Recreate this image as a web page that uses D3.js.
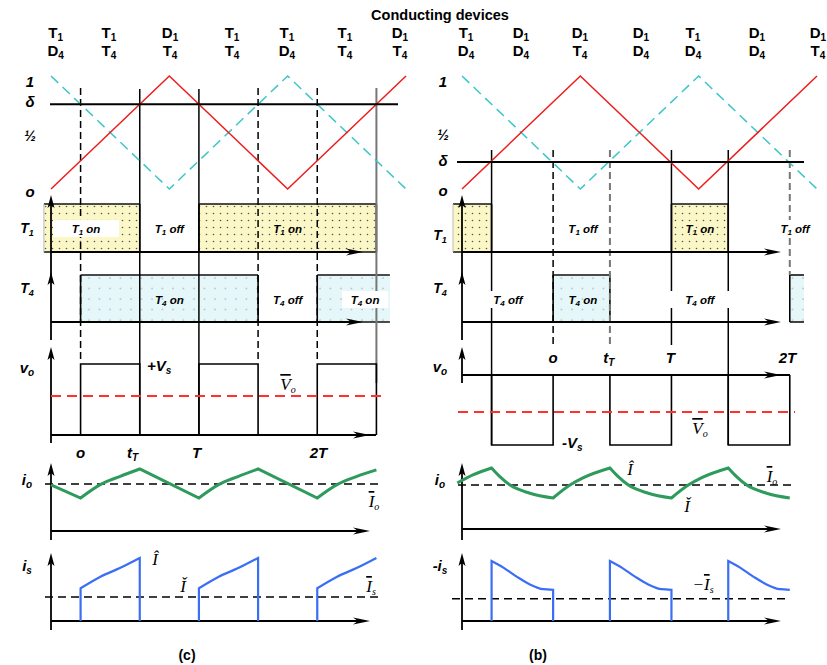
<!DOCTYPE html>
<html><head><meta charset="utf-8">
<script src="https://cdn.jsdelivr.net/npm/d3@7"></script>
<style>body{margin:0;background:#fff}svg{display:block}</style>
</head><body><svg id="c" width="827" height="665"></svg>
<script>
// ================= DATA =================
// time unit u: one carrier period = 1 (x domain 0..1.5 per panel)
const redCarrier  = [[0,0],[0.5,1],[1,0],[1.5,1]];
const cyanCarrier = [[0,1],[0.5,0],[1,1],[1.5,0]];
const deltaC = 0.75, deltaB = 0.24;
const switchC = [0.125,0.375,0.625,0.875,1.125,1.375];
const switchB = [0.125,0.385,0.625,0.885,1.125,1.385];
const devicesC = [["T1","D4"],["T1","T4"],["D1","T4"],["T1","T4"],["T1","D4"],["T1","T4"],["D1","T4"]];
const devicesCPos = [0.02,0.245,0.503,0.765,0.997,1.242,1.474];
const devicesB = [["T1","D4"],["D1","D4"],["D1","T4"],["D1","D4"],["T1","D4"],["D1","D4"],["D1","T4"]];
const devicesBPos = [0.017,0.249,0.498,0.756,0.976,1.246,1.504];
const t1OnC = [[-0.03,0.375],[0.625,1.375]];
const t4OnC = [[0.125,0.875],[1.125,1.432]];
const t1OnB = [[-0.038,0.125],[0.885,1.125]];
const t4OnB = [[0.385,0.625],[1.385,1.445]];
const voPulsesC = [[0.125,0.375],[0.625,0.875],[1.125,1.375]];   // +Vs
const voPulsesB = [[0.125,0.385],[0.625,0.885],[1.125,1.385]];   // -Vs
const voLevelC = 1, voLevelB = -1;
const voMeanC = 0.55, voMeanB = -0.53;
const voTicksC = [["o",null,0.125],["t","T",0.345],["T",null,0.615],["2T",null,1.13]];
const voTicksB = [["o",null,0.385],["t","T",0.62],["T",null,0.88],["2T",null,1.375]];
const ioC = [
  [[0,0.45],[0.125,0]],
  [[0.125,0],[0.21,0.47],[0.29,0.74],[0.375,1]],
  [[0.375,1],[0.625,0]],
  [[0.625,0],[0.71,0.47],[0.79,0.74],[0.875,1]],
  [[0.875,1],[1.125,0]],
  [[1.125,0],[1.21,0.47],[1.29,0.74],[1.375,0.97]]
];
const ioB = [
  [[-0.02,0.5],[0.046,0.77],[0.125,1]],
  [[0.125,1],[0.16,0.71],[0.203,0.43],[0.287,0.16],[0.385,0]],
  [[0.385,0],[0.456,0.43],[0.511,0.67],[0.625,1]],
  [[0.625,1],[0.66,0.71],[0.703,0.43],[0.787,0.16],[0.885,0]],
  [[0.885,0],[0.956,0.43],[1.011,0.67],[1.125,1]],
  [[1.125,1],[1.16,0.71],[1.203,0.43],[1.287,0.16],[1.385,0]]
];
const ioMeanC = 0.48, ioMeanB = 0.43;
const isC = [
  [[0.125,0.52],[0.207,0.70],[0.291,0.84],[0.375,1]],
  [[0.625,0.52],[0.707,0.70],[0.791,0.84],[0.875,1]],
  [[1.125,0.52],[1.207,0.70],[1.291,0.84],[1.375,1]]
];
const isCFall = [true,true,false];
const isB = [
  [[0.125,1],[0.175,0.89],[0.231,0.74],[0.287,0.61],[0.343,0.53],[0.385,0.52]],
  [[0.625,1],[0.675,0.89],[0.731,0.74],[0.787,0.61],[0.843,0.53],[0.885,0.52]],
  [[1.125,1],[1.175,0.89],[1.231,0.74],[1.287,0.61],[1.343,0.53],[1.385,0.52]]
];
const isBFall = [true,true,false];
const isMeanC = 0.38, isMeanB = 0.37;

// ================= DRAW =================
const svg = d3.select("#c");
const SANS = "'Liberation Sans', Arial, Helvetica, sans-serif";
const SERIF = "'Liberation Serif', 'Times New Roman', serif";
const defs = svg.append("defs");
const pY = defs.append("pattern").attr("id","dotY").attr("width",7).attr("height",7).attr("patternUnits","userSpaceOnUse");
pY.append("rect").attr("width",7).attr("height",7).attr("fill","#fbf7c6");
pY.append("circle").attr("cx",3.5).attr("cy",3.5).attr("r",0.8).attr("fill","#555");
const pC = defs.append("pattern").attr("id","dotC").attr("width",10.5).attr("height",10.5).attr("patternUnits","userSpaceOnUse");
pC.append("rect").attr("width",10.5).attr("height",10.5).attr("fill","#e6f7fa");
pC.append("circle").attr("cx",5).attr("cy",5).attr("r",0.8).attr("fill","#aab");

const gBack = svg.append("g"), gLines = svg.append("g"), gFront = svg.append("g");

function line(x1,y1,x2,y2,stroke="#000",w=1.6,dash=null,g=gFront){
  const l = g.append("line").attr("x1",x1).attr("y1",y1).attr("x2",x2).attr("y2",y2)
    .attr("stroke",stroke).attr("stroke-width",w);
  if(dash) l.attr("stroke-dasharray",dash);
  return l;
}
function arrowUp(x,y){
  gFront.append("path").attr("d",`M${x},${y}L${x-3.5},${y+13}L${x},${y+10}L${x+3.5},${y+13}Z`).attr("fill","#000");
}
function arrowRight(x,y){
  gFront.append("path").attr("d",`M${x},${y}L${x-17},${y-3.5}L${x-12},${y}L${x-17},${y+3.5}Z`).attr("fill","#000");
}
// parts: array of [text, kind] ; kind: "n" normal, "s" subscript, "o" overline
function label(x,y,parts,o={}){
  const size=o.size||15, ss=o.subSize||Math.round(size*0.66), sd=o.subDy||size*0.22;
  const t = gFront.append("text").attr("x",x).attr("y",y).attr("text-anchor",o.anchor||"middle")
    .attr("font-family",o.family||SANS).attr("font-weight",o.weight||"bold")
    .attr("font-size",size).attr("font-style",o.italic?"italic":"normal").attr("fill","#000");
  let low=false;
  parts.forEach(([txt,kind])=>{
    const sp = t.append("tspan").text(txt);
    if(kind==="s"){ sp.attr("font-size",ss); if(!low){sp.attr("dy",sd); low=true;} }
    else { if(low){sp.attr("dy",-sd); low=false;} if(kind==="o") sp.attr("text-decoration","overline"); }
  });
  return t;
}
function boxLabel(x,y,dev,sub,state,w){
  if(w) gFront.append("rect").attr("x",x-w/2).attr("y",y-13).attr("width",w).attr("height",17).attr("fill","#fff");
  label(x,y,[[dev,"n"],[sub,"s"],[" "+state,"n"]],{size:11.5,italic:true,subSize:8,subDy:2});
}
function box(x0,x1,y0,y1,fill,edges){
  gBack.append("rect").attr("x",x0).attr("y",y0).attr("width",x1-x0).attr("height",y1-y0).attr("fill",fill);
  line(x0,y0,x1,y0,"#111",1.6,null,gBack);
  line(x0,y1,x1,y1,"#111",1.6,null,gBack);
  if(edges.left) line(x0,y0,x0,y1,edges.left,edges.left==="#000"?1.6:1,null,gBack);
  if(edges.right) line(x1,y0,x1,y1,edges.right,1.6,null,gBack);
}
function segPath(segs,x,y,curve){
  const g = d3.line().x(d=>x(d[0])).y(d=>y(d[1])).curve(curve);
  return segs.map((s,i)=>{const d=g(s); return i===0?d:"L"+d.slice(1);}).join("");
}

// title
gFront.append("text").attr("x",440).attr("y",20).attr("text-anchor","middle").attr("font-family",SANS)
  .attr("font-weight","bold").attr("font-size",14.5).text("Conducting devices");

function panel(P){
  const x = d3.scaleLinear([0,1.5],P.xr);
  const yC = d3.scaleLinear([0,1],[189,76]);
  const ax = x(0);
  // device labels
  P.devices.forEach((d,i)=>{
    const px = x(P.devPos[i]);
    label(px,38,[[d[0][0],"n"],[d[0][1],"s"]],{size:15,subSize:10,subDy:3});
    label(px,56,[[d[1][0],"n"],[d[1][1],"s"]],{size:15,subSize:10,subDy:3});
  });
  // level labels
  P.levels.forEach(l=>label(P.lx,l[1],[[l[0],"n"]],{size:l[2]||15,italic:true}));
  // gate boxes (background)
  P.t1.forEach((b,i)=>box(x(b[0]),x(b[1]),204,252,"url(#dotY)",P.t1Edges[i]));
  P.t4.forEach((b,i)=>box(x(b[0]),x(b[1]),275,322,"url(#dotC)",P.t4Edges[i]));
  // switching lines
  P.sw.forEach((u,i)=>{
    const s=P.swStyle[i], grey=s[0].startsWith("g");
    line(x(u),s[1],x(u),s[2],grey?"#777":"#000",grey?2:1.5,s[0].endsWith("dash")?"7,4":null,gLines);
  });
  // carriers
  const lg = d3.line().x(d=>x(d[0])).y(d=>yC(d[1]));
  gFront.append("path").attr("d",lg(cyanCarrier)).attr("fill","none").attr("stroke","#3cc6c8").attr("stroke-width",1.5).attr("stroke-dasharray","10,6");
  gFront.append("path").attr("d",lg(redCarrier)).attr("fill","none").attr("stroke","#ee1c1c").attr("stroke-width",1.5);
  line(P.dl[0],yC(P.delta),P.dl[1],yC(P.delta),"#000",2);
  // gate axes
  line(ax,340,ax,200,"#000",1.8); arrowUp(ax,195); arrowUp(ax,272);
  line(ax,252,P.arrowX-5,252,"#000",1.8); arrowRight(P.arrowX,252);
  line(ax,322,P.arrowX-5,322,"#000",1.8); arrowRight(P.arrowX,322);
  P.boxLabels.forEach(b=>boxLabel(x(b[0]),b[1],b[2],b[3],b[4],b[5]));
  label(P.rx,P.t1y,[["T","n"],["1","s"]],{size:14,italic:true,subSize:9,subDy:3});
  label(P.rx,293,[["T","n"],["4","s"]],{size:14,italic:true,subSize:9,subDy:3});

  // vo
  const yV = d3.scaleLinear([0,P.voLevel],[P.voAx, P.voLevelY]);
  line(ax,P.voAx+8,ax,352,"#000",1.8); arrowUp(ax,347);
  P.vo.forEach(p=>{
    gFront.append("path").attr("d",`M${x(p[0])},${yV(0)}V${yV(P.voLevel)}H${x(p[1])}V${yV(0)}`)
      .attr("fill","none").attr("stroke","#000").attr("stroke-width",1.6);
  });
  line(ax,yV(0),P.voEnd,yV(0),"#000",1.8); arrowRight(P.voArrow,yV(0));
  line(P.vmd[0],yV(P.voMean),P.vmd[1],yV(P.voMean),"#ff3030",2,"10,6");
  label(P.rx,P.voLy,[["v","n"],["o","s"]],{size:15,italic:true,subSize:10,subDy:3});
  P.voTicks.forEach(t=>{
    const parts=[[t[0],"n"]]; if(t[1]) parts.push([t[1],"s"]);
    label(x(t[2]),P.tickY,parts,{size:15,italic:true,subSize:10,subDy:3});
  });
  label(P.vsX,P.vsY,[[P.vsText,"n"],["s","s"]],{size:15,italic:true,subSize:10,subDy:3,anchor:"start"});
  label(P.vbar[0],P.vbar[1],[["V","o"],["o","s"]],{family:SERIF,weight:"normal",italic:true,size:17,subSize:10,subDy:3});

  // io
  const yI = d3.scaleLinear([0,1],P.ioR);
  line(ax,540,ax,468,"#000",1.8); arrowUp(ax,463);
  line(ax,P.ioAx,P.arrowX2-5,P.ioAx,"#000",1.8); arrowRight(P.arrowX2,P.ioAx);
  line(P.imd[0],yI(P.ioMean),P.imd[1],yI(P.ioMean),"#000",1.5,"8,5");
  gFront.append("path").attr("d",segPath(P.io,x,yI,d3.curveMonotoneX)).attr("fill","none")
    .attr("stroke","#2e9a5c").attr("stroke-width",3).attr("stroke-linejoin","miter");
  label(P.rx,485,[["i","n"],["o","s"]],{size:15,italic:true,subSize:10,subDy:3});
  P.ioLabels.forEach(l=>label(l[0],l[1],l[2],{family:SERIF,weight:"normal",italic:true,size:17,subSize:10,subDy:3}));

  // is
  const yS = d3.scaleLinear([0,1],P.isR);
  line(ax,630,ax,558,"#000",1.8); arrowUp(ax,553);
  line(ax,621,P.arrowX2-5,621,"#000",1.8); arrowRight(P.arrowX2,621);
  line(P.smd[0],yS(P.isMean),P.smd[1],yS(P.isMean),"#000",1.5,"8,5");
  const cg = d3.line().x(d=>x(d[0])).y(d=>yS(d[1])).curve(d3.curveMonotoneX);
  P.is.forEach((c,i)=>{
    let d = `M${x(c[0][0])},${yS(0)}L` + cg(c).slice(1);
    if(P.isFall[i]) d += `L${x(c[c.length-1][0])},${yS(0)}`;
    gFront.append("path").attr("d",d).attr("fill","none").attr("stroke","#3a6ef5").attr("stroke-width",2.2);
  });
  label(P.rx,571,[[P.isName,"n"],["s","s"]],{size:15,italic:true,subSize:10,subDy:3});
  P.isLabels.forEach(l=>label(l[0],l[1],l[2],{family:SERIF,weight:"normal",italic:true,size:17,subSize:10,subDy:3}));
  label(P.cap[0],660,[[P.cap[1],"n"]],{size:14});
}

panel({
  xr:[51,406], devices:devicesC, devPos:devicesCPos, lx:30,
  levels:[["1",87],["δ",107],["½",141,14],["o",197]],
  sw:switchC,
  swStyle:[["dash",88,363],["solid",89,435],["solid",89,435],["dash",88,363],["dash",88,363],["grey",88,383]],
  delta:deltaC, dl:[50,398],
  t1:t1OnC, t1Edges:[{left:"#bbb",right:"#000"},{left:"#000",right:"#000"}],
  t4:t4OnC, t4Edges:[{left:"#000",right:"#000"},{left:"#000",right:null}],
  arrowX:363, arrowX2:370,
  boxLabels:[[0.148,233,"T","1","on",66],[0.5,233,"T","1","off",0],[1.0,233,"T","1","on",0],
             [0.5,304,"T","4","on",0],[1.0,304,"T","4","off",0],[1.327,304,"T","4","on",46]],
  rx:27, t1y:233,
  voAx:435, voLevelY:364, voLevel:voLevelC, vo:voPulsesC, voEnd:376, voArrow:370,
  voMean:voMeanC, vmd:[51,386], voLy:373, voTicks:voTicksC, tickY:458,
  vsX:147, vsY:371, vsText:"+V", vbar:[288,390],
  ioR:[498,469], ioAx:531, ioMean:ioMeanC, imd:[45,381], io:ioC,
  ioLabels:[[374,507,[["I","o"],["o","s"]]]],
  isR:[621,558], isMean:isMeanC, smd:[45,381], is:isC, isFall:isCFall, isName:"i",
  isLabels:[[155,565,[["Î","n"]]],[183,592,[["Ǐ","n"]]],[371,592,[["I","o"],["s","s"]]]],
  cap:[187,"(c)"]
});

panel({
  xr:[462,817], devices:devicesB, devPos:devicesBPos, lx:443,
  levels:[["1",87],["½",140,14],["δ",166],["o",196]],
  sw:switchB,
  swStyle:[["solid",150,445],["dash",150,347],["greydash",150,347],["solid",150,345],["solid",150,445],["greydash",150,275]],
  delta:deltaB, dl:[457,804],
  t1:t1OnB, t1Edges:[{left:"#bbb",right:"#000"},{left:"#000",right:"#000"}],
  t4:t4OnB, t4Edges:[{left:"#000",right:"#000"},{left:"#000",right:null}],
  arrowX:781, arrowX2:781,
  boxLabels:[[0.511,233,"T","1","off",0],[1.005,233,"T","1","on",0],[1.407,233,"T","1","off",40],
             [0.194,304,"T","4","off",64],[0.511,304,"T","4","on",0],[1.005,304,"T","4","off",64]],
  rx:440, t1y:240,
  voAx:375, voLevelY:445, voLevel:voLevelB, vo:voPulsesB, voEnd:790, voArrow:781,
  voMean:voMeanB, vmd:[458,795], voLy:372, voTicks:voTicksB, tickY:363,
  vsX:562, vsY:448, vsText:"-V", vbar:[700,434],
  ioR:[498,468], ioAx:529, ioMean:ioMeanB, imd:[458,795], io:ioB,
  ioLabels:[[630,475,[["Î","n"]]],[687,512,[["Ǐ","n"]]],[772,482,[["I","o"],["o","s"]]]],
  isR:[621,561], isMean:isMeanB, smd:[452,790], is:isB, isFall:isBFall, isName:"-i",
  isLabels:[[703,590,[["−","n"],["I","o"],["s","s"]]]],
  cap:[538,"(b)"]
});
</script></body></html>
